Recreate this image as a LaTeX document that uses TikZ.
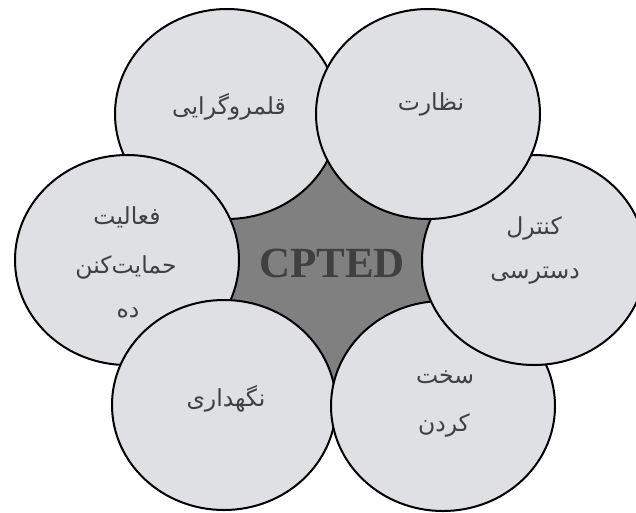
\documentclass[tikz,border=0pt]{standalone}
\usepackage{fontspec}
\usetikzlibrary{shapes.geometric}
\TeXXeTstate=1
\newfontfamily\arabicfont[Script=Arabic]{DejaVu Sans}
\newfontfamily\cpfont{Liberation Serif}
\definecolor{bubfill}{RGB}{222,224,227}
\definecolor{hubfill}{RGB}{128,128,128}
\definecolor{txtgray}{RGB}{64,64,64}
\tikzset{
  bub/.style={ellipse, draw=black, line width=2pt, fill=bubfill, minimum width=224pt, minimum height=210pt, inner sep=0pt},
  fa/.style={inner sep=0pt, text=txtgray, font=\arabicfont\fontsize{23.5}{28}\selectfont},
}
\begin{document}
\begin{tikzpicture}[x=1pt,y=-1pt]
\clip (0,0) rectangle (636,512);
% centres of the six bubbles
\coordinate (ctl) at (227,114);
\coordinate (ctr) at (428,114);
\coordinate (cr)  at (534,260);
\coordinate (cbr) at (443,406);
\coordinate (cbl) at (224,405);
\coordinate (cl)  at (127,260);
% central hub
\fill[hubfill] (ctl) -- (ctr) -- (cr) -- (cbr) -- (cbl) -- (cl) -- cycle;
\node[inner sep=0pt, text=txtgray, font=\cpfont\bfseries\fontsize{43}{43}\selectfont] (hub) at (332,263) {CPTED};
% bubbles (drawing order matters)
\node[bub] (tl) at (ctl) {};
\node[bub] (l)  at (cl)  {};
\node[bub] (bl) at (cbl) {};
\node[bub] (br) at (cbr) {};
\node[bub] (r)  at (cr)  {};
\node[bub] (tr) at (ctr) {};
% labels
\node[fa] (tltext) at (229,107) {\beginR قلمروگرایی\endR};
\node[fa] (trtext) at (431,104) {\beginR نظارت\endR};
\node[fa] (rtext1) at (534,228) {\beginR کنترل\endR};
\node[fa] (rtext2) at (535,276) {\beginR دسترسی\endR};
\node[fa] (ltext1) at (127,217) {\beginR فعالیت\endR};
\node[fa] (ltext2) at (126,267) {\beginR حمایت‌کنن\endR};
\node[fa] (ltext3) at (128,313) {\beginR ده\endR};
\node[fa] (bltext) at (226,399) {\beginR نگهداری\endR};
\node[fa] (brtext1) at (445,377) {\beginR سخت\endR};
\node[fa] (brtext2) at (444,425) {\beginR کردن\endR};
\end{tikzpicture}
\end{document}
